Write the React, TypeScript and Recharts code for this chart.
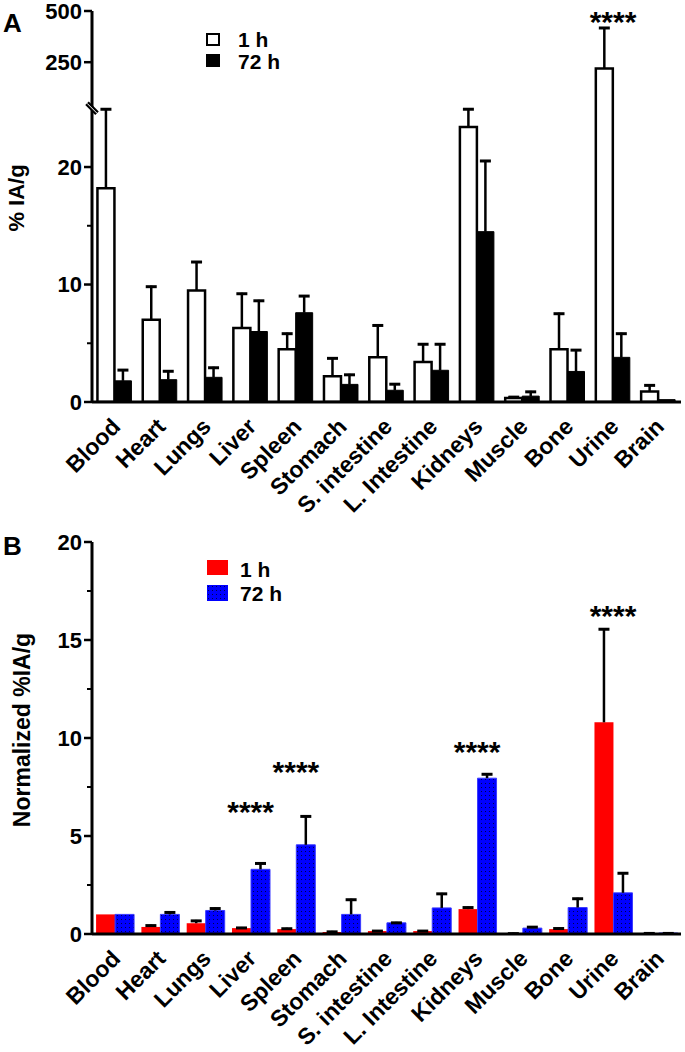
import React from 'react';
import { BarChart, Bar, XAxis, YAxis, Legend, ReferenceDot } from 'recharts';

const FONT = '"Liberation Sans", Arial, Helvetica, sans-serif';

const organs = ['Blood', 'Heart', 'Lungs', 'Liver', 'Spleen', 'Stomach', 'S. intestine', 'L. Intestine', 'Kidneys', 'Muscle', 'Bone', 'Urine', 'Brain'];
const seriesLabels = ['1 h', '72 h'];

// Panel A: % IA/g (broken axis)
const a1h = [18.2, 7.0, 9.5, 6.3, 4.5, 2.2, 3.8, 3.4, 23.4, 0.35, 4.5, 219, 0.9];
const a1hErr = [6.9, 2.9, 2.5, 3.0, 1.4, 1.6, 2.8, 1.6, 1.8, 0.15, 3.1, 203, 0.6];
const a72h = [1.8, 1.9, 2.1, 6.0, 7.6, 1.5, 1.0, 2.7, 14.5, 0.5, 2.6, 3.8, 0.2];
const a72hErr = [1.0, 0.8, 0.9, 2.7, 1.5, 0.9, 0.6, 2.3, 6.1, 0.45, 1.9, 2.1, 0];
const aMajorTicks = [0, 10, 20, 250, 500];
const aMinorTicks = [5, 15];
const aBreak = 25;
const aTop = 500;
const aStarOrgans = ['Urine'];
const aStarLevels = [480];

// Panel B: normalized %IA/g
const b1h = [1.0, 0.36, 0.55, 0.3, 0.25, 0.1, 0.15, 0.15, 1.27, 0.05, 0.25, 10.8, 0.05];
const b1hErr = [0, 0.12, 0.17, 0.06, 0.07, 0.06, 0.05, 0.05, 0.13, 0.02, 0.08, 4.8, 0.03];
const b72h = [1.0, 1.0, 1.2, 3.3, 4.55, 1.0, 0.57, 1.33, 7.95, 0.3, 1.35, 2.1, 0.05];
const b72hErr = [0, 0.15, 0.15, 0.35, 1.5, 0.8, 0.05, 0.77, 0.25, 0.1, 0.5, 1.05, 0.03];
const bMajorTicks = [0, 5, 10, 15, 20];
const bMinorTicks = [2.5, 7.5, 12.5, 17.5];
const bStarOrgans = ['Liver', 'Spleen', 'Kidneys', 'Urine'];
const bStarLevels = [6.6, 8.6, 9.65, 16.6];

// broken-axis mapping: linear below the break, compressed linear above it
const UPPER_SPAN = 8.28;
const toD = (v: number) => (v <= aBreak ? v : aBreak + ((v - aBreak) * UPPER_SPAN) / (aTop - aBreak));

const dataA = organs.map((o, i) => ({
  organ: o,
  v1: toD(a1h[i]),
  e1: toD(a1h[i] + a1hErr[i]) - toD(a1h[i]),
  v72: toD(a72h[i]),
  e72: toD(a72h[i] + a72hErr[i]) - toD(a72h[i]),
}));

const dataB = organs.map((o, i) => ({
  organ: o,
  v1: b1h[i],
  e1: b1hErr[i],
  v72: b72h[i],
  e72: b72hErr[i],
}));

const near = (a: number, b: number) => Math.abs(a - b) < 1e-6;

const makeYTick = (majors: number[], labels: string[], minors: number[], breakVal: number | null) => (props: any) => {
  const { x, y, payload } = props;
  const v = payload.value;
  const mi = majors.findIndex((m) => near(m, v));
  if (mi >= 0) {
    return (
      <g>
        <line x1={x - 8} x2={x} y1={y} y2={y} stroke="#000" strokeWidth={2.5} />
        <text x={x - 10} y={y} dy="0.36em" textAnchor="end" fontSize={22} fontWeight="bold" fontFamily={FONT} fill="#000">
          {labels[mi]}
        </text>
      </g>
    );
  }
  if (minors.some((m) => near(m, v))) {
    return <line x1={x - 5} x2={x} y1={y} y2={y} stroke="#000" strokeWidth={2} />;
  }
  if (breakVal !== null && near(breakVal, v)) {
    return (
      <g>
        <line x1={x - 5} y1={y - 5} x2={x + 5} y2={y + 5} stroke="#000" strokeWidth={5} />
        <line x1={x - 5} y1={y - 5} x2={x + 5} y2={y + 5} stroke="#fff" strokeWidth={1} />
      </g>
    );
  }
  return <g />;
};

const XTick = (props: any) => {
  const { x, y, payload } = props;
  const tx = x + 7;
  const ty = y + 26;
  return (
    <text x={tx} y={ty} transform={`rotate(-45, ${tx}, ${ty})`} textAnchor="end" fontSize={23} fontWeight="bold" fontFamily={FONT} fill="#000">
      {payload.value}
    </text>
  );
};

const ErrShape = (props: any) => {
  const { x, y, width, height } = props;
  if (!(height > 0.3)) return <g />;
  const cx = x + width / 2;
  return (
    <g>
      <line x1={cx} x2={cx} y1={y} y2={y + height} stroke="#000" strokeWidth={2.5} />
      <line x1={cx - 5.5} x2={cx + 5.5} y1={y + 1} y2={y + 1} stroke="#000" strokeWidth={3} />
    </g>
  );
};

const StarShape = (props: any) => (
  <text x={props.cx} y={props.cy + 17} textAnchor="middle" fontSize={30} fontWeight="bold" fontFamily={FONT} fill="#000">
    ****
  </text>
);

const txtStyle: React.CSSProperties = {
  position: 'absolute',
  fontFamily: FONT,
  fontWeight: 'bold',
  fontSize: 21,
  lineHeight: '21px',
  color: '#000',
  whiteSpace: 'nowrap',
};

const LegendA = () => (
  <div style={{ position: 'relative', width: 120, height: 50 }}>
    <div style={{ position: 'absolute', left: 6, top: 9, width: 10, height: 9, border: '2px solid #000', background: '#fff' }} />
    <div style={{ ...txtStyle, left: 38, top: 15 - 10.5 }}>{seriesLabels[0]}</div>
    <div style={{ position: 'absolute', left: 6, top: 30, width: 14, height: 13, background: '#000' }} />
    <div style={{ ...txtStyle, left: 38, top: 37 - 10.5 }}>{seriesLabels[1]}</div>
  </div>
);

const LegendB = () => (
  <div style={{ position: 'relative', width: 120, height: 56 }}>
    <div style={{ position: 'absolute', left: 7, top: 10, width: 21, height: 15, background: '#ff0000' }} />
    <div style={{ ...txtStyle, left: 40, top: 19 - 10.5 }}>{seriesLabels[0]}</div>
    <svg style={{ position: 'absolute', left: 7, top: 35 }} width={21} height={16}>
      <rect width={21} height={16} fill="url(#dotsBlue)" />
    </svg>
    <div style={{ ...txtStyle, left: 40, top: 43 - 10.5 }}>{seriesLabels[1]}</div>
  </div>
);

const axisLine = { stroke: '#000', strokeWidth: 3 };

const ticksA = [...aMajorTicks, ...aMinorTicks, aBreak].map(toD);
const ticksB = [...bMajorTicks, ...bMinorTicks];

const ChartA = () => (
  <BarChart width={685} height={526} data={dataA} margin={{ top: 11, right: 4, left: 0, bottom: 0 }} barCategoryGap="12%" barGap={0}>
    <XAxis dataKey="organ" interval={0} tickLine={false} tickSize={0} tickMargin={0} height={124} axisLine={axisLine} tick={XTick} />
    <YAxis
      type="number"
      domain={[0, toD(aTop)]}
      ticks={ticksA}
      interval={0}
      width={92}
      tickLine={false}
      tickSize={0}
      tickMargin={0}
      axisLine={axisLine}
      allowDataOverflow
      tick={makeYTick(aMajorTicks.map(toD), aMajorTicks.map(String), aMinorTicks.map(toD), toD(aBreak))}
    />
    <Bar dataKey="v1" stackId="s1" fill="#fff" stroke="#000" strokeWidth={2.5} isAnimationActive={false} />
    <Bar dataKey="e1" stackId="s1" shape={ErrShape} isAnimationActive={false} />
    <Bar dataKey="v72" stackId="s2" fill="#000" stroke="#000" strokeWidth={1} isAnimationActive={false} />
    <Bar dataKey="e72" stackId="s2" shape={ErrShape} isAnimationActive={false} />
    {aStarOrgans.map((o, i) => (
      <ReferenceDot key={o} x={o} y={toD(aStarLevels[i])} r={0} ifOverflow="visible" shape={StarShape} />
    ))}
    <Legend content={LegendA} layout="vertical" align="center" verticalAlign="middle" wrapperStyle={{ left: 200, top: 24, width: 120, height: 50 }} />
  </BarChart>
);

const ChartB = () => (
  <BarChart width={685} height={526} data={dataB} margin={{ top: 16, right: 4, left: 0, bottom: 0 }} barCategoryGap="9%" barGap={0}>
    <XAxis dataKey="organ" interval={0} tickLine={false} tickSize={0} tickMargin={0} height={118} axisLine={axisLine} tick={XTick} />
    <YAxis
      type="number"
      domain={[0, 20]}
      ticks={ticksB}
      interval={0}
      width={92}
      tickLine={false}
      tickSize={0}
      tickMargin={0}
      axisLine={axisLine}
      allowDataOverflow
      tick={makeYTick(bMajorTicks, bMajorTicks.map(String), bMinorTicks, null)}
    />
    <Bar dataKey="v1" stackId="s1" fill="#ff0000" isAnimationActive={false} />
    <Bar dataKey="e1" stackId="s1" shape={ErrShape} isAnimationActive={false} />
    <Bar dataKey="v72" stackId="s2" fill="url(#dotsBlue)" stroke="#3a3aff" strokeWidth={1} isAnimationActive={false} />
    <Bar dataKey="e72" stackId="s2" shape={ErrShape} isAnimationActive={false} />
    {bStarOrgans.map((o, i) => (
      <ReferenceDot key={o} x={o} y={bStarLevels[i]} r={0} ifOverflow="visible" shape={StarShape} />
    ))}
    <Legend content={LegendB} layout="vertical" align="center" verticalAlign="middle" wrapperStyle={{ left: 200, top: 24, width: 120, height: 56 }} />
  </BarChart>
);

export default function App() {
  return (
    <div style={{ position: 'absolute', left: 0, top: 0, width: 685, height: 1052, background: '#fff', overflow: 'hidden' }}>
      <div style={{ position: 'absolute', left: 0, top: 0 }}>
        <ChartA />
      </div>
      <div style={{ position: 'absolute', left: 0, top: 526 }}>
        <ChartB />
      </div>
      <svg style={{ position: 'absolute', left: 0, top: 0, pointerEvents: 'none' }} width={685} height={1052}>
        <defs>
          <pattern id="dotsBlue" width={4} height={4} patternUnits="userSpaceOnUse">
            <rect width={4} height={4} fill="#0000ff" />
            <rect x={1} y={1} width={1} height={1} fill="#00004a" />
          </pattern>
        </defs>
        <text x={3} y={32} fontSize={26} fontWeight="bold" fontFamily={FONT} fill="#000">A</text>
        <text x={3} y={555} fontSize={26} fontWeight="bold" fontFamily={FONT} fill="#000">B</text>
        <text x={24} y={198} transform="rotate(-90, 24, 198)" textAnchor="middle" fontSize={22} fontWeight="bold" fontFamily={FONT} fill="#000">
          % IA/g
        </text>
        <text x={30} y={730} transform="rotate(-90, 30, 730)" textAnchor="middle" fontSize={23} fontWeight="bold" fontFamily={FONT} fill="#000">
          Normalized %IA/g
        </text>
      </svg>
    </div>
  );
}
